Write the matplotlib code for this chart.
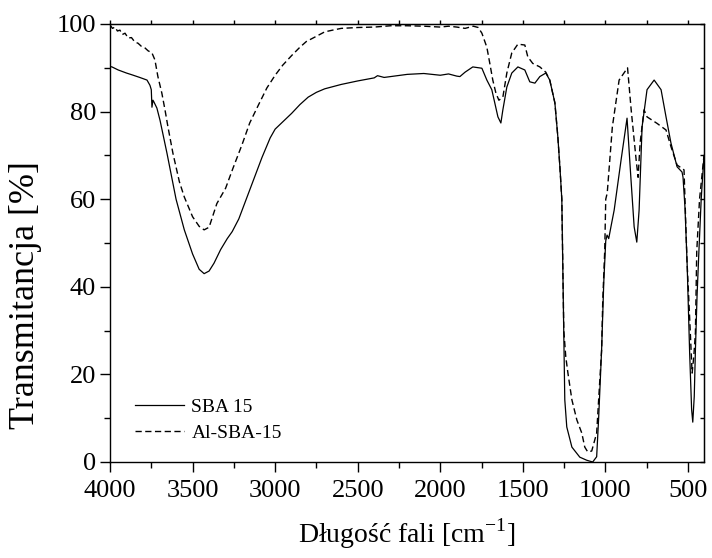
import matplotlib
matplotlib.use("Agg")
import matplotlib.pyplot as plt
from matplotlib.ticker import MultipleLocator

plt.rcParams["font.family"] = ["Liberation Serif", "DejaVu Serif"]
plt.rcParams["mathtext.fontset"] = "custom"
plt.rcParams["mathtext.rm"] = "Liberation Serif"

# SBA 15 (solid)
sba_wn = [4000, 3988, 3950, 3900, 3867, 3820, 3776, 3758, 3750, 3746, 3740, 3734,
          3725, 3716, 3697, 3655, 3600, 3550, 3500, 3460, 3430, 3400, 3370, 3330,
          3290, 3260, 3220, 3180, 3130, 3080, 3030, 3000, 2950, 2900, 2850, 2800,
          2750, 2700, 2600, 2500, 2400, 2380, 2340, 2300, 2200, 2100, 2000, 1950,
          1900, 1881, 1850, 1803, 1748, 1718, 1688, 1670, 1651, 1633, 1621, 1597,
          1567, 1530, 1488, 1458, 1427, 1397, 1361, 1337, 1306, 1288, 1275, 1264,
          1252, 1246, 1234, 1203, 1155, 1113, 1077, 1053, 1041, 1023, 1010, 998,
          990, 980, 965, 947, 905, 869, 846, 826, 810, 796, 778, 748, 705, 663,
          633, 603, 566, 536, 530, 518, 505, 490, 478, 471, 462, 455, 445, 434,
          420, 403]
sba_t = [90.3, 90.2, 89.5, 88.8, 88.4, 87.8, 87.2, 86.0, 85.0, 81.0, 82.6, 82.2,
         81.5, 80.8, 78.0, 70.5, 60.0, 53.0, 47.5, 44.0, 43.0, 43.6, 45.4, 48.5,
         51.0, 52.6, 55.5, 59.5, 64.5, 69.5, 74.0, 76.0, 77.8, 79.6, 81.6, 83.3,
         84.4, 85.2, 86.2, 87.0, 87.7, 88.2, 87.8, 88.0, 88.5, 88.7, 88.3, 88.6,
         88.1, 88.0, 89.0, 90.2, 89.9, 87.2, 85.0, 82.0, 78.8, 77.4, 80.4, 85.6,
         88.8, 90.2, 89.5, 86.8, 86.5, 88.0, 88.8, 87.2, 82.0, 74.2, 67.0, 60.0,
         29.0, 14.2, 8.0, 3.4, 1.1, 0.4, 0.0, 1.2, 10.0, 25.6, 41.0, 50.5,
         51.8, 51.0, 54.0, 57.5, 69.0, 78.5, 65.0, 53.7, 50.2, 57.5, 76.5, 85.0,
         87.2, 85.0, 78.8, 72.8, 67.4, 66.2, 65.0, 58.0, 45.0, 25.0, 12.0, 9.1,
         15.0, 25.6, 38.0, 48.0, 60.0, 70.0]

# Al-SBA-15 (dashed)
al_wn = [4000, 3985, 3970, 3955, 3940, 3925, 3909, 3890, 3870, 3850, 3830, 3810,
         3790, 3770, 3746, 3728, 3710, 3686, 3667, 3649, 3619, 3580, 3550, 3500,
         3460, 3430, 3400, 3353, 3300, 3256, 3200, 3154, 3100, 3050, 3000, 2954,
         2900, 2850, 2811, 2750, 2700, 2652, 2600, 2500, 2400, 2300, 2200, 2100,
         2000, 1950, 1900, 1850, 1800, 1770, 1748, 1718, 1700, 1682, 1663, 1645,
         1621, 1597, 1567, 1530, 1488, 1470, 1440, 1397, 1361, 1337, 1306, 1288,
         1275, 1264, 1252, 1240, 1227, 1203, 1173, 1143, 1125, 1107, 1083, 1053,
         1041, 1023, 1016, 1004, 998, 989, 958, 917, 866, 844, 814, 802, 790, 766,
         748, 687, 633, 603, 566, 524, 506, 490, 475, 465, 455, 447, 430, 403]
al_t = [99.8, 99.0, 99.3, 98.4, 98.6, 97.6, 97.9, 96.8, 96.9, 95.9, 95.6, 94.9,
        94.6, 93.9, 93.4, 91.8, 88.0, 84.2, 80.4, 76.5, 70.5, 64.0, 60.5, 56.0,
        53.8, 53.0, 53.6, 59.0, 62.5, 67.0, 72.5, 77.4, 81.6, 85.4, 88.3, 90.6,
        92.8, 94.7, 96.0, 97.2, 98.2, 98.6, 99.0, 99.2, 99.3, 99.6, 99.6, 99.5,
        99.3, 99.5, 99.3, 99.0, 99.5, 99.2, 97.9, 94.7, 91.0, 87.2, 84.2, 82.6,
        83.3, 88.8, 93.4, 95.4, 95.2, 92.5, 91.0, 90.2, 89.0, 87.2, 82.0, 74.2,
        67.0, 60.0, 30.0, 24.0, 20.3, 14.2, 9.6, 6.6, 3.4, 2.3, 2.5, 6.6,
        14.2, 25.6, 37.0, 48.4, 60.0, 61.4, 76.5, 87.2, 90.0, 80.4, 69.0, 65.0,
        72.8, 80.4, 78.8, 77.3, 75.8, 72.0, 67.8, 66.7, 46.0, 33.0, 20.3, 24.0,
        29.5, 48.0, 60.0, 70.0]

fig = plt.figure(figsize=(7.12, 5.58), dpi=100)
ax = fig.add_axes([110 / 712, 96 / 558, 594 / 712, 438 / 558])

ax.plot(sba_wn, sba_t, color="black", lw=0.9, label="SBA 15")
ax.plot(al_wn, al_t, color="black", lw=1.0, linestyle=(0, (4.5, 2.5)), label="Al-SBA-15")

ax.set_xlim(4000, 403)
ax.set_ylim(0, 100)
ax.xaxis.set_major_locator(MultipleLocator(500))
ax.xaxis.set_minor_locator(MultipleLocator(250))
ax.yaxis.set_major_locator(MultipleLocator(20))
ax.yaxis.set_minor_locator(MultipleLocator(10))

ax.tick_params(axis="both", which="major", direction="out", length=7, width=1.0,
               labelsize=19, pad=3)
ax.tick_params(axis="both", which="minor", direction="out", length=4, width=1.0)
ax.tick_params(axis="x", which="major", pad=6)
for spine in ax.spines.values():
    spine.set_linewidth(1.0)

# short ticks on the top and right edges
top = ax.secondary_xaxis("top")
top.xaxis.set_major_locator(MultipleLocator(500))
top.xaxis.set_minor_locator(MultipleLocator(250))
top.tick_params(which="both", direction="out", length=3, width=1.0, labeltop=False)
right = ax.secondary_yaxis("right")
right.yaxis.set_major_locator(MultipleLocator(20))
right.yaxis.set_minor_locator(MultipleLocator(10))
right.tick_params(which="both", direction="in", length=3, width=1.0, labelright=False)

fig.text(407 / 712, 15 / 558, "Długość fali [cm$^{\\mathregular{-1}}$]",
         ha="center", va="baseline", fontsize=20)
fig.text(26 / 712, 1 - 295 / 558, "Transmitancja [%]", rotation=90,
         ha="center", va="center", fontsize=26)

ax.legend(loc="upper left", bbox_to_anchor=(135 / 712, 1 - 398 / 558),
          bbox_transform=fig.transFigure, frameon=False, fontsize=14,
          handlelength=2.5, handletextpad=0.4, borderpad=0, borderaxespad=0,
          labelspacing=0.45)

fig.savefig("out.png", dpi=100)
